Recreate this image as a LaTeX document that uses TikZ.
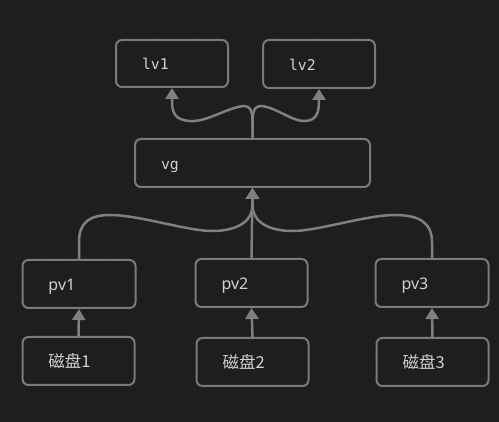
\documentclass[tikz,border=0pt]{standalone}
\usepackage{fontspec}
\usetikzlibrary{arrows.meta}
\newfontfamily\monof{DejaVu Sans Mono}
\newfontfamily\sansf{Noto Sans}
\newfontfamily\cjkf{Noto Sans CJK SC}
\definecolor{bg}{HTML}{1E1E1E}
\definecolor{dotc}{HTML}{2A2A2A}
\definecolor{boxc}{HTML}{7A7A7A}
\definecolor{linec}{HTML}{808080}
\definecolor{txtc}{HTML}{D2D2D2}
\tikzset{
  box/.style={draw=boxc, line width=2pt, rounded corners=6pt, fill=bg,
    minimum height=48pt, text width=#1, inner xsep=26pt, inner ysep=0pt,
    text height=13pt, text depth=0pt,
    align=left, text=txtc},
  conn/.style={draw=linec, line width=2.5pt, -{Triangle[width=13pt,length=11pt]}},
  mono/.style={font=\monof\fontsize{14.8}{16}\selectfont},
  sans/.style={font=\sansf\fontsize{16}{18}\selectfont},
  cjk/.style={font=\cjkf\fontsize{16.5}{18}\selectfont}
}
\begin{document}
\begin{tikzpicture}[x=1pt,y=-1pt]
\fill[bg] (0,0) rectangle (499,422);
\useasboundingbox (0,0) rectangle (499,422);
\foreach \i in {0,...,24} \foreach \j in {0,...,20}
  \fill[dotc] ({16+20*\i},{18.5+20*\j}) circle (0.8pt);
% nodes
\node[box=60pt, mono, minimum width=112pt, minimum height=47pt] (lv1) at (172,63.5) {lv1};
\node[box=60pt, mono, minimum width=112pt] (lv2) at (319,64) {lv2};
\node[box=183pt, mono, minimum width=235pt] (vg) at (252.5,163) {vg};
\node[box=61pt, sans, minimum width=112pt] (pv1) at (79,284) {pv1};
\node[box=60pt, sans, minimum width=111pt] (pv2) at (251.5,283) {pv2};
\node[box=61pt, sans, minimum width=112pt] (pv3) at (432,283) {pv3};
\node[box=60pt, cjk, minimum width=111pt] (d1) at (78.5,361) {磁盘1};
\node[box=60pt, cjk, minimum width=111pt] (d2) at (252.5,362) {磁盘2};
\node[box=60pt, cjk, minimum width=111pt] (d3) at (432.5,362) {磁盘3};
% vg -> lv
\draw[conn] (vg.north) -- (252.5,122)
  .. controls (252.5,108) and (249,104) .. (238,107)
  .. controls (222,111) and (205,122) .. (190,121)
  .. controls (174,120) and (172,112) .. (172,100) -- (lv1.south);
\draw[conn] (vg.north) -- (252.5,122)
  .. controls (252.5,108) and (256,104) .. (267,107)
  .. controls (281,111) and (294,122) .. (306,121)
  .. controls (317,120) and (319,112) .. (319,100) -- (lv2.south);
% pv -> vg
\draw[conn] (pv1.north) -- (79,242)
  .. controls (79,222) and (90,215) .. (110,215)
  .. controls (140,215) and (190,232) .. (215,231)
  .. controls (240,230) and (252.5,220) .. (252.5,205) -- (vg.south);
\draw[conn] (pv3.north) -- (432,242)
  .. controls (432,222) and (418,215) .. (395,215)
  .. controls (365,215) and (315,232) .. (290,231)
  .. controls (265,230) and (252.5,220) .. (252.5,205) -- (vg.south);
\draw[conn] (pv2.north) -- (vg.south);
% disks -> pv
\draw[conn] (d1.north) -- (pv1.south);
\draw[conn] (d2.north) -- (pv2.south);
\draw[conn] (d3.north) -- (pv3.south);
\end{tikzpicture}
\end{document}
